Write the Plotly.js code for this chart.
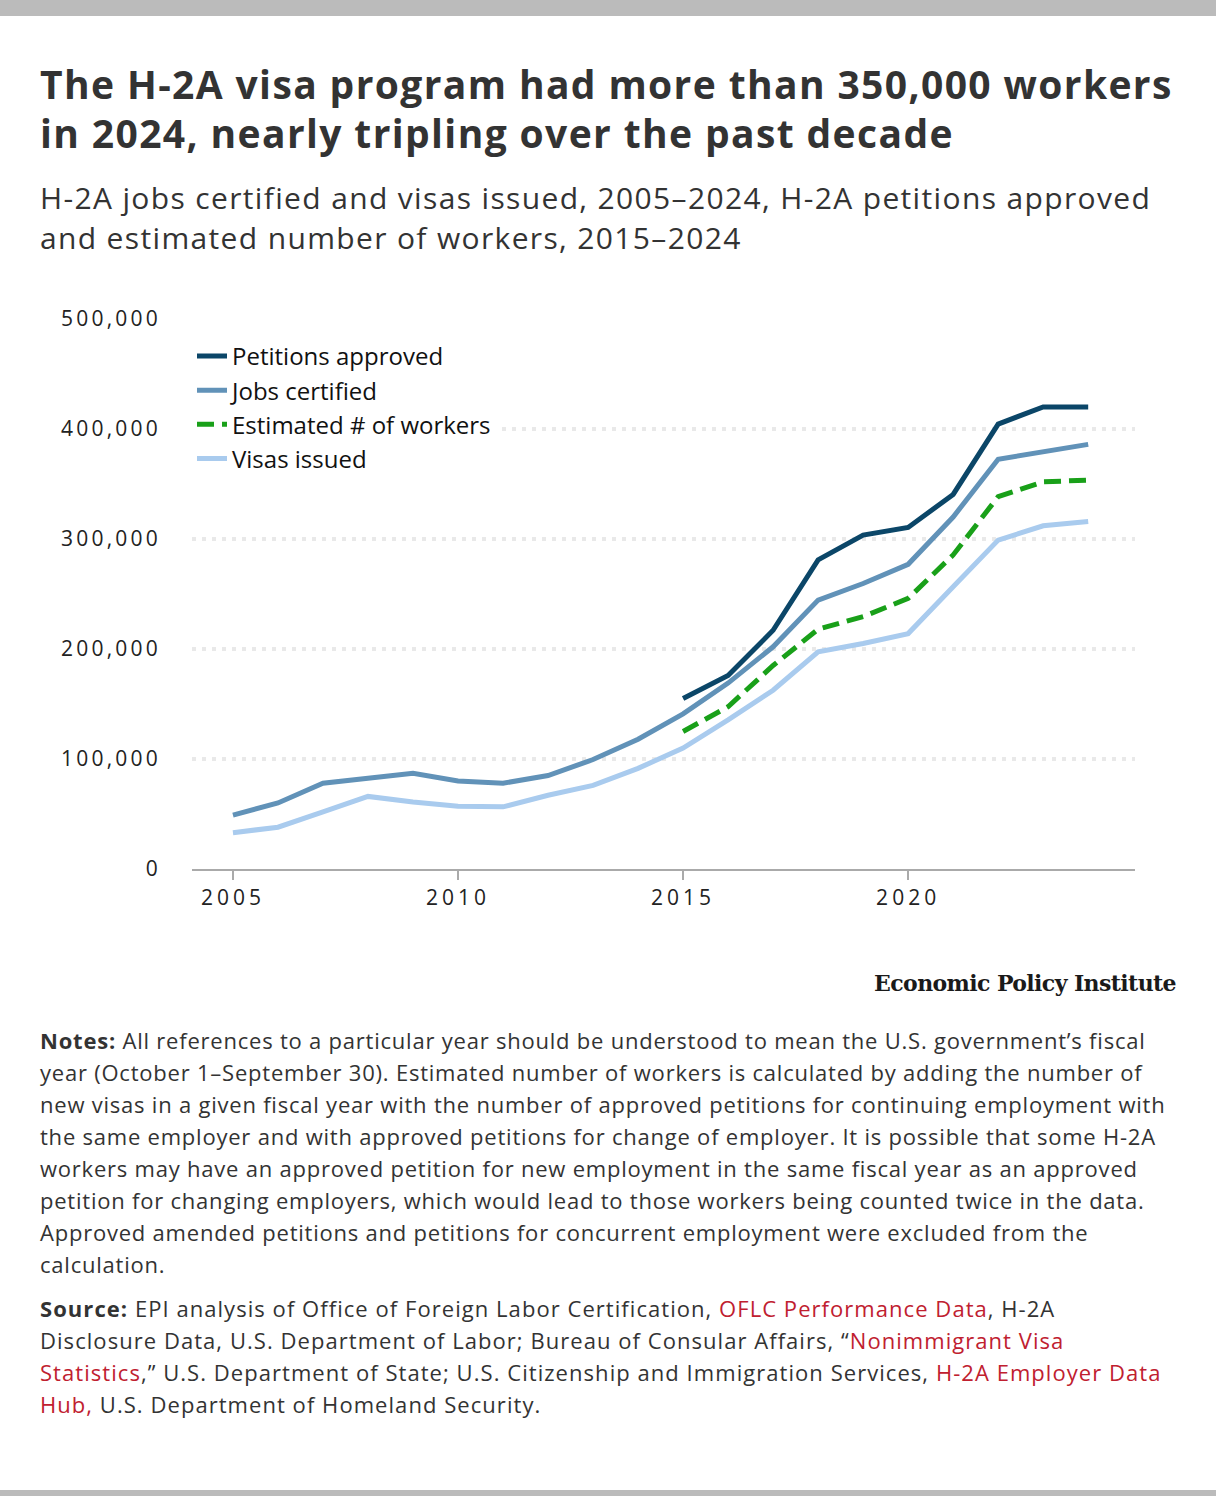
<!DOCTYPE html>
<html>
<head>
<meta charset="utf-8">
<script src="https://cdn.plot.ly/plotly-3.0.1.min.js"></script>
<style>
  html, body { margin: 0; padding: 0; background: #fff; }
  #page { position: relative; width: 1216px; height: 1496px; overflow: hidden; background: #fff; font-family: "Open Sans", sans-serif; }
  #chart { position: absolute; left: 0; top: 0; width: 1216px; height: 1496px; }
  #chart .ytick text { letter-spacing: 3.2px; }
  #chart .xtick text { letter-spacing: 4px; }
  .txt { position: absolute; pointer-events: none; white-space: nowrap; }
  #topbar { position: absolute; left: 0; top: 0; width: 1216px; height: 16px; background: #bbbbbb; }
  #botbar { position: absolute; left: 0; top: 1490px; width: 1216px; height: 6px; background: #bbbbbb; }
  #title { left: 40px; top: 59px; font-size: 39px; font-weight: 700; line-height: 49px; color: #333; letter-spacing: 1.38px; }
  #subtitle { left: 40px; top: 178px; font-size: 30px; font-weight: 400; line-height: 40px; color: #333; letter-spacing: 1.35px; }
  #logo { right: 40px; top: 970px; font-family: "DejaVu Serif", serif; font-weight: 700; font-size: 22px; color: #1a1a1a; letter-spacing: -0.6px; }
  #notes { left: 40px; top: 1024px; font-size: 22px; line-height: 32px; color: #333; letter-spacing: 0.78px; }
  #source { left: 40px; top: 1292px; font-size: 22px; line-height: 32px; color: #333; letter-spacing: 1.05px; }
  .red { color: #c0202f; }
  b { font-weight: 700; }
</style>
</head>
<body>
<div id="page">
  <div id="chart"></div>
  <div id="topbar"></div>
  <div id="botbar"></div>
  <div id="title" class="txt">The H-2A visa program had more than 350,000 workers<br>in 2024, nearly tripling over the past decade</div>
  <div id="subtitle" class="txt">H-2A jobs certified and visas issued, 2005–2024, H-2A petitions approved<br>and estimated number of workers, 2015–2024</div>
  <div id="logo" class="txt">Economic Policy Institute</div>
  <div id="notes" class="txt"><b>Notes:</b> All references to a particular year should be understood to mean the U.S. government’s fiscal<br>year (October 1–September 30). Estimated number of workers is calculated by adding the number of<br>new visas in a given fiscal year with the number of approved petitions for continuing employment with<br>the same employer and with approved petitions for change of employer. It is possible that some H-2A<br>workers may have an approved petition for new employment in the same fiscal year as an approved<br>petition for changing employers, which would lead to those workers being counted twice in the data.<br>Approved amended petitions and petitions for concurrent employment were excluded from the<br>calculation.</div>
  <div id="source" class="txt"><b>Source:</b> EPI analysis of Office of Foreign Labor Certification, <span class="red">OFLC Performance Data</span>, H-2A<br>Disclosure Data, U.S. Department of Labor; Bureau of Consular Affairs, “<span class="red">Nonimmigrant Visa<br>Statistics</span>,” U.S. Department of State; U.S. Citizenship and Immigration Services, <span class="red">H-2A Employer Data<br>Hub,</span> U.S. Department of Homeland Security.</div>
</div>
<script>
// Data
const yearsAll = [2005, 2006, 2007, 2008, 2009, 2010, 2011, 2012, 2013, 2014, 2015, 2016, 2017, 2018, 2019, 2020, 2021, 2022, 2023, 2024];
const yearsRecent = [2015, 2016, 2017, 2018, 2019, 2020, 2021, 2022, 2023, 2024];
const petitionsApproved = [155000, 176000, 217000, 281000, 303500, 310500, 340500, 404500, 420000, 420000];
const jobsCertified = [49000, 60000, 78000, 83000, 87000, 80000, 78000, 85000, 99500, 118000, 141000, 169000, 202000, 244500, 259500, 277000, 320000, 372500, 379000, 386000];
const estimatedWorkers = [125000, 147500, 185000, 218000, 229500, 246000, 285500, 338500, 352000, 353500];
const visasIssued = [33000, 38000, 52000, 66000, 61000, 57000, 56500, 67000, 76000, 91500, 110000, 135500, 162500, 197500, 205000, 214000, 256500, 299000, 312000, 316000];
const yTickVals = [0, 100000, 200000, 300000, 400000, 500000];
const yTickText = ["0", "100,000", "200,000", "300,000", "400,000", "500,000"];
const xTickVals = [2005, 2010, 2015, 2020];

const traces = [
  { x: yearsRecent, y: petitionsApproved, name: "Petitions approved", mode: "lines",
    line: { color: "#0b4668", width: 5 } },
  { x: yearsAll, y: jobsCertified, name: "Jobs certified", mode: "lines",
    line: { color: "#6192b8", width: 5 } },
  { x: yearsRecent, y: estimatedWorkers, name: "Estimated # of workers", mode: "lines",
    line: { color: "#19a019", width: 5, dash: "17px,8px" } },
  { x: yearsAll, y: visasIssued, name: "Visas issued", mode: "lines",
    line: { color: "#a9cbee", width: 5 } }
];

const layout = {
  width: 1216, height: 1496,
  margin: { l: 192, r: 81, t: 319, b: 627, pad: 0 },
  paper_bgcolor: "#ffffff", plot_bgcolor: "rgba(0,0,0,0)",
  font: { family: "Open Sans, sans-serif", color: "#222" },
  showlegend: true,
  legend: { x: 0, y: 0.973, xanchor: "left", yanchor: "top", bgcolor: "#ffffff",
    font: { size: 24, color: "#111" }, traceorder: "normal", itemwidth: 30 },
  xaxis: { range: [2004.09, 2025.04], tickvals: xTickVals, ticktext: xTickVals.map(String),
    showgrid: false, zeroline: false, showline: true, linecolor: "#aaaaaa", linewidth: 2,
    ticks: "outside", ticklen: 9, tickwidth: 2, tickcolor: "#aaaaaa",
    tickfont: { size: 21, color: "#222" }, fixedrange: true },
  yaxis: { range: [0, 500000], tickvals: yTickVals, ticktext: yTickText,
    showgrid: true, gridcolor: "#e9e9e9", gridwidth: 4, griddash: "4px,6px",
    zeroline: false, showline: false, ticks: "", ticklabelstandoff: 30,
    tickfont: { size: 21, color: "#222" }, fixedrange: true },
  hovermode: false
};

Plotly.newPlot("chart", traces, layout, { staticPlot: true, displayModeBar: false });
</script>
</body>
</html>
